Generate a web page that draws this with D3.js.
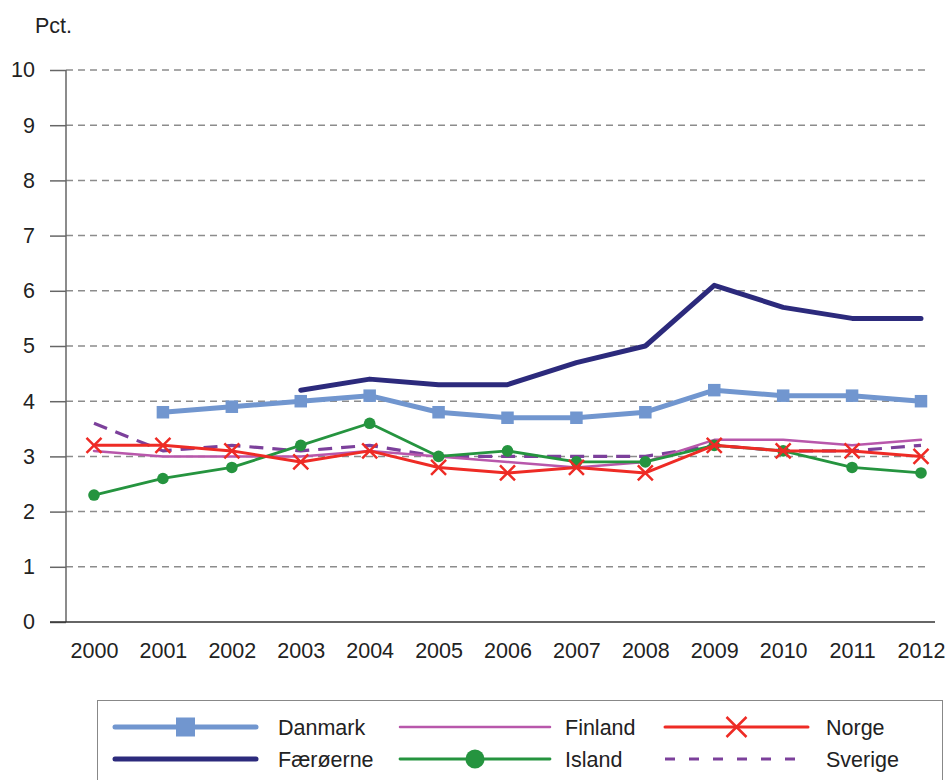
<!DOCTYPE html>
<html><head><meta charset="utf-8">
<script src="https://cdn.jsdelivr.net/npm/d3@7"></script>
<style>body{margin:0;background:#fff}svg{display:block;font-family:"Liberation Sans",Arial,sans-serif}</style>
</head><body>
<svg id="c" width="950" height="780"></svg>
<script>
const years = [2000,2001,2002,2003,2004,2005,2006,2007,2008,2009,2010,2011,2012];
const yTicks = [0,1,2,3,4,5,6,7,8,9,10];
const danmark  = [null,3.8,3.9,4.0,4.1,3.8,3.7,3.7,3.8,4.2,4.1,4.1,4.0];
const faeroerne= [null,null,null,4.2,4.4,4.3,4.3,4.7,5.0,6.1,5.7,5.5,5.5];
const finland  = [3.1,3.0,3.0,3.0,3.1,3.0,2.9,2.8,2.9,3.3,3.3,3.2,3.3];
const norge    = [3.2,3.2,3.1,2.9,3.1,2.8,2.7,2.8,2.7,3.2,3.1,3.1,3.0];
const island   = [2.3,2.6,2.8,3.2,3.6,3.0,3.1,2.9,2.9,3.2,3.1,2.8,2.7];
const sverige  = [3.6,3.1,3.2,3.1,3.2,3.0,3.0,3.0,3.0,3.2,3.1,3.1,3.2];

const series = [
  {name:"Danmark", values:danmark, color:"#7196cf", width:5, marker:"square"},
  {name:"Finland", values:finland, color:"#b857ab", width:2.5, marker:null},
  {name:"Norge", values:norge, color:"#ee2b25", width:3, marker:"x"},
  {name:"Færøerne", values:faeroerne, color:"#2c2a7c", width:5, marker:null},
  {name:"Island", values:island, color:"#25943f", width:2.8, marker:"circle"},
  {name:"Sverige", values:sverige, color:"#7c409b", width:3.2, marker:null, dash:"14,9"}
];
const drawOrder = ["Sverige","Finland","Island","Norge","Danmark","Færøerne"];

const svg = d3.select("#c");
const x = d3.scalePoint().domain(years).range([94,921]);
const y = d3.scaleLinear().domain([0,10]).range([622,70]);
const FS = 21.5;

// grid
svg.append("g").selectAll("line").data(yTicks.filter(d=>d>0)).join("line")
  .attr("x1",66).attr("x2",930).attr("y1",d=>y(d)).attr("y2",d=>y(d))
  .attr("stroke","#8c8c8c").attr("stroke-width",1.5).attr("stroke-dasharray","7,5");

// y axis
const ya = svg.append("g").attr("transform","translate(66,0)")
  .call(d3.axisLeft(y).tickValues(yTicks).tickSize(16).tickPadding(15).tickFormat(d3.format("d")));
ya.select(".domain").attr("stroke","#666").attr("stroke-width",1.5).attr("d","M0,622V70");
ya.selectAll(".tick line").attr("stroke","#666").attr("stroke-width",1.5);
ya.selectAll(".tick text").attr("font-size",FS).attr("fill","#222").attr("font-family","Liberation Sans, Arial, sans-serif");

// x axis
const xa = svg.append("g").attr("transform","translate(0,622)")
  .call(d3.axisBottom(x).tickSize(0).tickPadding(21).tickFormat(d3.format("d")));
xa.select(".domain").attr("stroke","#333").attr("stroke-width",1.5).attr("d","M50,0H935");
xa.selectAll(".tick text").attr("font-size",FS).attr("fill","#222").attr("font-family","Liberation Sans, Arial, sans-serif");

svg.append("text").attr("x",35).attr("y",33).attr("font-size",FS).attr("fill","#222").text("Pct.");

const line = d3.line().defined(d=>d.v!=null).x(d=>x(d.year)).y(d=>y(d.v));

function marker(g, type, cx, cy, color, legend){
  if(type==="square"){
    const s = legend?19:12.5;
    g.append("rect").attr("x",cx-s/2).attr("y",cy-s/2).attr("width",s).attr("height",s).attr("fill",color);
  } else if(type==="circle"){
    const r = legend?9.5:5.8;
    g.append("circle").attr("cx",cx).attr("cy",cy).attr("r",r).attr("fill",color);
  } else if(type==="x"){
    const s = legend?10:7.5;
    g.append("path").attr("d",`M${cx-s},${cy-s}L${cx+s},${cy+s}M${cx-s},${cy+s}L${cx+s},${cy-s}`)
      .attr("stroke",color).attr("stroke-width",2.5).attr("fill","none");
  }
}

drawOrder.forEach(n=>{
  const s = series.find(d=>d.name===n);
  const data = years.map((yr,i)=>({year:yr,v:s.values[i]}));
  const g = svg.append("g");
  g.append("path").datum(data).attr("d",line).attr("fill","none")
    .attr("stroke",s.color).attr("stroke-width",s.width).attr("stroke-linejoin","round")
    .attr("stroke-linecap", s.dash?"butt":"round")
    .attr("stroke-dasharray",s.dash||null);
  if(s.marker) data.filter(d=>d.v!=null).forEach(d=>marker(g,s.marker,x(d.year),y(d.v),s.color,false));
});

// legend
const lg = svg.append("g");
lg.append("rect").attr("x",97.5).attr("y",700.5).attr("width",845).attr("height",95)
  .attr("fill","none").attr("stroke","#888").attr("stroke-width",1);
const cols = [{lx1:115,lx2:256,tx:278},{lx1:400,lx2:550,tx:565},{lx1:665,lx2:808,tx:826}];
const rowsY = [727,759];
series.forEach((s,i)=>{
  const c = cols[i%3], ry = rowsY[Math.floor(i/3)];
  const g = lg.append("g");
  g.append("line").attr("x1",c.lx1).attr("x2",c.lx2).attr("y1",ry).attr("y2",ry)
    .attr("stroke",s.color).attr("stroke-width",s.width)
    .attr("stroke-linecap", s.dash?"butt":"round")
    .attr("stroke-dasharray",s.dash?"10,14":null);
  if(s.marker) marker(g,s.marker,(c.lx1+c.lx2)/2,ry,s.color,true);
  g.append("text").attr("x",c.tx).attr("y",ry+7.5).attr("font-size",FS).attr("fill","#222").text(s.name);
});
</script>
</body></html>
